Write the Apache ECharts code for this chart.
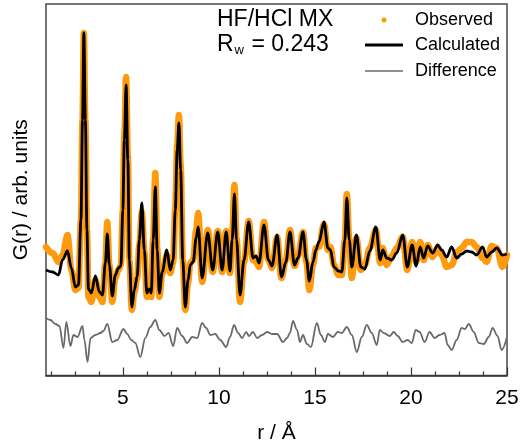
<!DOCTYPE html>
<html>
<head>
<meta charset="utf-8">
<script src="https://cdn.jsdelivr.net/npm/echarts@6/dist/echarts.min.js"></script>
<style>html,body{margin:0;padding:0;background:#fff}#c{width:527px;height:444px}</style>
</head>
<body>
<div id="c"></div>
<script>
// r grid (Å) shared by observed and calculated G(r)
const r = [1.00,1.34,1.65,1.86,2.12,2.32,2.53,2.69,2.82,2.90,
  2.97,3.05,3.13,3.21,3.36,3.57,3.78,3.94,4.09,4.19,
  4.30,4.45,4.61,4.77,4.90,5.00,5.08,5.17,5.26,5.34,
  5.47,5.60,5.75,5.86,5.99,6.12,6.25,6.38,6.48,6.58,
  6.69,6.79,6.90,7.05,7.29,7.47,7.62,7.73,7.83,7.92,
  8.01,8.12,8.25,8.40,8.51,8.66,8.82,8.92,9.13,9.42,
  9.68,9.94,10.17,10.38,10.58,10.69,10.81,10.92,11.10,11.31,
  11.55,11.78,11.94,12.09,12.35,12.58,12.77,13.03,13.26,13.49,
  13.70,13.94,14.12,14.38,14.56,14.71,14.90,15.05,15.21,15.47,
  15.68,15.81,15.99,16.22,16.40,16.56,16.66,16.79,16.92,17.16,
  17.39,17.60,17.86,18.17,18.40,18.53,18.74,19.00,19.26,19.57,
  19.81,20.06,20.27,20.48,20.66,20.87,21.13,21.39,21.60,21.86,
  22.12,22.38,22.64,22.90,23.16,23.42,23.73,23.94,24.20,24.46,
  24.77,25.00];
const calculated = [-1.0,-1.2,-1.5,0.0,0.9,-0.8,-2.7,-2.5,4.0,14.0,
  22.7,14.0,3.0,-2.9,-3.3,-1.6,-3.2,-3.5,-0.3,2.6,
  -0.5,-3.6,-1.5,-0.8,-0.6,5.0,12.0,17.5,10.0,0.0,
  -4.7,-3.0,-1.6,2.0,5.7,1.0,-3.3,-2.9,-3.3,2.0,
  7.3,1.0,-3.3,-1.2,1.0,-1.0,0.0,5.0,11.0,13.7,
  9.0,0.0,-4.7,-2.0,-0.5,-0.2,2.2,3.3,-1.8,2.7,
  -1.0,2.8,-1.0,2.8,-1.1,2.0,6.6,2.0,-3.5,0.0,
  3.8,0.2,0.4,-0.3,3.5,0.0,-0.6,2.5,-1.7,-0.2,
  2.8,-0.5,0.2,2.8,0.0,-2.1,-0.2,1.0,1.8,3.8,
  1.2,1.0,-0.7,-1.1,-1.2,2.0,6.2,2.0,-0.7,2.5,
  -0.7,-0.9,0.9,3.3,0.0,1.0,0.2,0.0,0.7,2.5,
  -0.7,1.5,-0.6,1.3,0.2,1.4,0.7,1.5,1.0,0.3,
  1.3,0.2,0.6,0.9,0.8,0.5,1.3,0.3,0.8,1.2,
  0.5,0.6];
const observed = [1.3,0.7,-0.2,0.5,2.5,-1.0,-3.0,-2.8,4.0,14.0,
  22.7,14.0,3.0,-3.7,-4.2,-2.0,-3.7,-4.2,-0.3,3.8,
  -0.5,-4.2,-1.8,-1.0,-0.5,5.0,12.5,18.3,10.5,0.0,
  -5.0,-3.2,-1.8,1.5,4.8,0.8,-3.7,-3.0,-3.7,2.2,
  8.7,1.2,-3.7,-1.4,0.5,-1.3,-0.3,5.2,11.5,14.5,
  9.5,0.0,-5.0,-2.3,-0.3,0.0,3.0,4.7,-2.2,3.0,
  -1.2,2.9,-1.2,2.9,-1.3,2.3,7.5,2.2,-4.2,-0.2,
  3.9,0.0,-0.2,-0.7,3.8,0.0,-0.8,2.3,-1.8,0.0,
  3.0,-0.6,0.4,2.8,-0.2,-3.0,-0.5,1.2,1.3,3.6,
  1.0,1.3,-0.5,-1.5,-1.5,2.0,6.6,2.0,-1.8,2.2,
  -1.0,-0.5,1.2,3.0,-0.3,1.2,-0.5,0.4,1.2,2.3,
  -1.0,1.8,-0.2,1.8,0.0,1.5,0.3,1.2,0.5,-0.7,
  -0.5,0.8,1.2,1.8,1.8,1.3,0.2,-0.2,1.4,1.2,
  -0.7,0.5];
// difference curve (obs - calc), drawn shifted down by diffOffset
const rDiff = [1.00,1.23,1.49,1.70,1.91,2.06,2.27,2.43,2.64,2.90,
  3.00,3.16,3.32,3.57,3.83,3.99,4.19,4.45,4.71,5.03,
  5.23,5.44,5.65,5.91,6.17,6.43,6.69,6.90,7.17,7.38,
  7.62,7.83,8.09,8.35,8.61,8.87,9.13,9.34,9.55,9.81,
  10.07,10.38,10.58,10.79,11.00,11.21,11.42,11.57,11.78,11.99,
  12.25,12.51,12.77,13.03,13.34,13.55,13.70,13.86,14.07,14.22,
  14.38,14.58,14.79,15.10,15.31,15.52,15.68,15.94,16.19,16.40,
  16.66,16.92,17.18,17.44,17.70,17.96,18.22,18.38,18.58,18.90,
  19.10,19.31,19.57,19.83,20.04,20.25,20.45,20.71,20.97,21.23,
  21.49,21.75,21.91,22.12,22.38,22.64,22.81,23.01,23.27,23.53,
  23.79,24.05,24.25,24.51,24.72,25.00];
const difference = [1.7,1.5,1.1,0.9,-1.3,1.3,-1.1,0,-0.2,0.9,
  -0.5,-2.7,-0.3,0,0.2,0.4,1.1,-0.7,-0.5,0.6,
  0.1,-0.5,-0.8,-2.2,-0.3,0.8,1.5,0.5,-0.1,0.2,
  -1.1,0.7,-0.1,-0.8,-0.2,-0.3,1.2,0.7,0,0.1,
  -0.5,-1.2,-0.2,1.0,0.2,-0.3,0.3,-0.1,0.3,-0.3,
  0,0.3,0.1,0.1,-0.7,-0.3,0.2,1.4,0.5,-0.7,
  0,-0.9,-1.2,1.2,0,-0.7,0.1,-0.2,0.3,0.2,
  0.8,0,-1.7,-0.2,1.0,0.2,-1.0,0.5,0.2,-0.1,
  0.3,-0.1,-0.7,-0.5,-0.8,0.5,0.3,-0.7,0.3,-0.3,
  0,0.2,-1.0,-1.5,-0.5,0.7,0.6,1.1,0.3,-0.8,
  -0.9,-0.2,0.7,-0.1,-1.5,-0.2];
const diffOffset = -7.5;
const xMajorTicks = [5,10,15,20,25];
const xMinorTicks = [1.25,2.5,3.75,6.25,7.5,8.75,11.25,12.5,13.75,16.25,17.5,18.75,21.25,22.5,23.75];

const ORANGE = '#FF9A0E', GRAY = '#6a6a6a', FONT = '"Liberation Sans", Arial, Helvetica, sans-serif';
const zip = (xs, ys, off) => xs.map((x, i) => [x, ys[i] + (off || 0)]);
const legendText = (pad) => ({fontSize: 18, fontFamily: FONT, color: '#000', padding: [0, 0, 0, pad]});

const chart = echarts.init(document.getElementById('c'), null, {renderer: 'canvas'});
chart.setOption({
  animation: false,
  textStyle: {fontFamily: FONT, color: '#000'},
  grid: {left: 46, right: 20, top: 4, bottom: 68.5, show: true, borderColor: '#4a4a4a', borderWidth: 1.5,
         containLabel: false, outerBoundsMode: 'none'},
  title: {
    text: 'HF/HCl MX\n{r|R}{w|w}{r| = 0.243}',
    left: 217, top: 7, padding: 0,
    textStyle: {fontSize: 23, fontWeight: 'normal', color: '#000', fontFamily: FONT, lineHeight: 25,
      rich: {r: {fontSize: 23, lineHeight: 25, fontFamily: FONT, color: '#000'},
             w: {fontSize: 13, lineHeight: 25, verticalAlign: 'bottom', padding: [0, 1, 0, 1], fontFamily: FONT, color: '#000'}}}
  },
  legend: [
    {data: [{name: 'Observed', icon: 'circle'}], left: 381.5, top: 11, padding: 0, itemWidth: 5, itemHeight: 5,
     selectedMode: false, textStyle: legendText(23.5)},
    {data: [{name: 'Calculated', icon: 'rect'}], left: 365, top: 36, padding: 0, itemWidth: 38, itemHeight: 3,
     selectedMode: false, textStyle: legendText(7)},
    {data: [{name: 'Difference', icon: 'rect'}], left: 365, top: 62, padding: 0, itemWidth: 38, itemHeight: 1.5,
     selectedMode: false, textStyle: legendText(7)}
  ],
  xAxis: [
    {type: 'value', min: 1, max: 25, position: 'bottom',
     axisLine: {show: true, onZero: false, lineStyle: {color: '#333', width: 1.5}},
     axisTick: {show: true, inside: true, length: 8, customValues: xMajorTicks, lineStyle: {color: '#333', width: 1.2}},
     axisLabel: {customValues: xMajorTicks, fontSize: 21, color: '#000', margin: 12, fontFamily: FONT},
     splitLine: {show: false},
     name: 'r / Å', nameLocation: 'middle', nameGap: 47,
     nameTextStyle: {fontSize: 21, color: '#000', fontFamily: FONT}},
    {type: 'value', min: 1, max: 25, position: 'bottom',
     axisLine: {show: false, onZero: false},
     axisTick: {show: true, inside: true, length: 4, customValues: xMinorTicks, lineStyle: {color: '#333', width: 1.2}},
     axisLabel: {show: false}, splitLine: {show: false}}
  ],
  yAxis: {type: 'value', min: -11.55, max: 25.6,
    axisLine: {show: false}, axisTick: {show: false}, axisLabel: {show: false}, splitLine: {show: false},
    name: 'G(r) / arb. units', nameLocation: 'middle', nameRotate: 90, nameGap: 14,
    nameTextStyle: {fontSize: 21, color: '#000', fontFamily: FONT}},
  series: [
    {name: 'Observed', type: 'line', data: zip(r, observed), showSymbol: false, smooth: 0.35, smoothMonotone: 'x',
     itemStyle: {color: ORANGE}, lineStyle: {color: ORANGE, width: 6.5, cap: 'round', join: 'round'}, z: 2},
    {name: 'Calculated', type: 'line', data: zip(r, calculated), showSymbol: false, smooth: 0.35, smoothMonotone: 'x',
     itemStyle: {color: '#000'}, lineStyle: {color: '#000', width: 2.8, join: 'round'}, z: 3},
    {name: 'Difference', type: 'line', data: zip(rDiff, difference, diffOffset), showSymbol: false, smooth: 0.35, smoothMonotone: 'x',
     itemStyle: {color: GRAY}, lineStyle: {color: GRAY, width: 1.8, join: 'round'}, z: 2}
  ]
});
</script>
</body>
</html>
